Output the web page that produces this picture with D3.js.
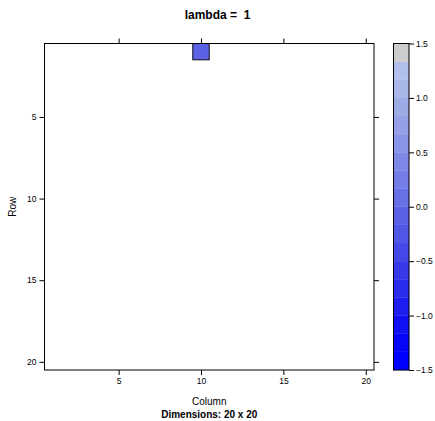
<!DOCTYPE html>
<html><head><meta charset="utf-8">
<script src="https://cdn.jsdelivr.net/npm/d3@7"></script>
<style>body{margin:0;background:#fff;} text{font-family:"Liberation Sans",Arial,Helvetica,sans-serif;fill:#000;white-space:pre;}</style>
</head><body>
<svg id="c" width="435" height="421"></svg>
<script>
const nRows = 20, nCols = 20;
const cellRows = [1];
const cellCols = [10];
const cellValues = [-0.05];
const axisTicks = [5, 10, 15, 20];
const keyBreaks = [-1.5,-1.3333,-1.1667,-1.0,-0.8333,-0.6667,-0.5,-0.3333,-0.1667,0,0.1667,0.3333,0.5,0.6667,0.8333,1.0,1.1667,1.3333,1.5];
const keyColors = ["#0000FF","#0505F8","#1010F2","#1E1EEE","#2B2CEC","#383AEA","#4448E8","#5056E6","#5C62E6","#6870E6","#747CE6","#7F88E6","#8A94E6","#95A0E6","#9EACE6","#A8B6E8","#B0C0EA","#CCCCCC"];
const keyTicks = [-1.5,-1.0,-0.5,0.0,0.5,1.0,1.5];
const title = "lambda =  1";
const subTitle = "Dimensions: 20 x 20";

(function(){
const svg = d3.select("#c");
const px0 = 44.5, px1 = 374, py0 = 43.5, py1 = 370;
const x = d3.scaleLinear().domain([0.5, nCols + 0.5]).range([px0, px1]);
const y = d3.scaleLinear().domain([0.5, nRows + 0.5]).range([py0, py1]);
const color = d3.scaleThreshold().domain(keyBreaks.slice(1, -1)).range(keyColors);

svg.append("text").attr("x", 217.5).attr("y", 18.5).attr("text-anchor","middle")
  .attr("xml:space","preserve")
  .style("font-size","12px").style("font-weight","bold").text(title);

const cells = cellRows.map((r,i)=>({r, c: cellCols[i], v: cellValues[i]}));
svg.selectAll("rect.cell").data(cells).enter().append("rect")
  .attr("x", d=>x(d.c-0.5)).attr("y", d=>y(d.r-0.5))
  .attr("width", d=>x(d.c+0.5)-x(d.c-0.5)).attr("height", d=>y(d.r+0.5)-y(d.r-0.5))
  .attr("fill", d=>color(d.v)).attr("stroke","#111").attr("stroke-width",1);

const fmt = d3.format("d");
const gB = svg.append("g").attr("transform",`translate(0,${py1})`)
  .call(d3.axisBottom(x).tickValues(axisTicks).tickSize(5).tickPadding(3).tickFormat(fmt));
const gT = svg.append("g").attr("transform",`translate(0,${py0})`)
  .call(d3.axisTop(x).tickValues(axisTicks).tickSize(5).tickFormat(""));
const gL = svg.append("g").attr("transform",`translate(${px0},0)`)
  .call(d3.axisLeft(y).tickValues(axisTicks).tickSize(5).tickPadding(3).tickFormat(fmt));
const gR = svg.append("g").attr("transform",`translate(${px1},0)`)
  .call(d3.axisRight(y).tickValues(axisTicks).tickSize(5).tickFormat(""));
[gB, gT, gL, gR].forEach(g=>{
  g.select(".domain").remove();
  g.selectAll("line").attr("stroke","#000");
  g.selectAll("text").style("font-size","8.5px").style("font-family","Liberation Sans, Arial, sans-serif").attr("fill","#222");
});

svg.append("rect").attr("x",px0).attr("y",py0).attr("width",px1-px0).attr("height",py1-py0)
  .attr("fill","none").attr("stroke","#000").attr("stroke-width",1);

svg.append("text").attr("x",(px0+px1)/2).attr("y",405).attr("text-anchor","middle")
  .style("font-size","10px").text("Column");
svg.append("text").attr("x",(px0+px1)/2).attr("y",417.5).attr("text-anchor","middle")
  .style("font-size","10px").style("font-weight","bold").text(subTitle);
svg.append("text").attr("transform",`translate(16,${(py0+py1)/2}) rotate(-90)`).attr("text-anchor","middle")
  .style("font-size","10px").text("Row");

const kx0 = 393.5, kx1 = 409;
const k = d3.scaleLinear().domain([-1.5, 1.5]).range([py1, py0]);
const bands = keyColors.map((c,i)=>({lo:keyBreaks[i], hi:keyBreaks[i+1], c}));
svg.selectAll("rect.key").data(bands).enter().append("rect")
  .attr("x",kx0).attr("width",kx1-kx0)
  .attr("y",d=>k(d.hi)).attr("height",d=>k(d.lo)-k(d.hi))
  .attr("fill",d=>d.c).attr("stroke",d=>d.c).attr("stroke-width",0.3);
svg.append("rect").attr("x",kx0).attr("y",py0).attr("width",kx1-kx0).attr("height",py1-py0)
  .attr("fill","none").attr("stroke","#000").attr("stroke-width",1);
const kAxis = svg.append("g").attr("transform",`translate(${kx1},0)`)
  .call(d3.axisRight(k).tickValues(keyTicks).tickSize(5).tickPadding(2)
  .tickFormat(d=>d3.format(".1f")(d).replace("-","\u2212")));
kAxis.select(".domain").remove();
kAxis.selectAll("line").attr("stroke","#000");
kAxis.selectAll("text").style("font-size","8.5px").style("font-family","Liberation Sans, Arial, sans-serif").attr("fill","#222");
})();
</script>
</body></html>
